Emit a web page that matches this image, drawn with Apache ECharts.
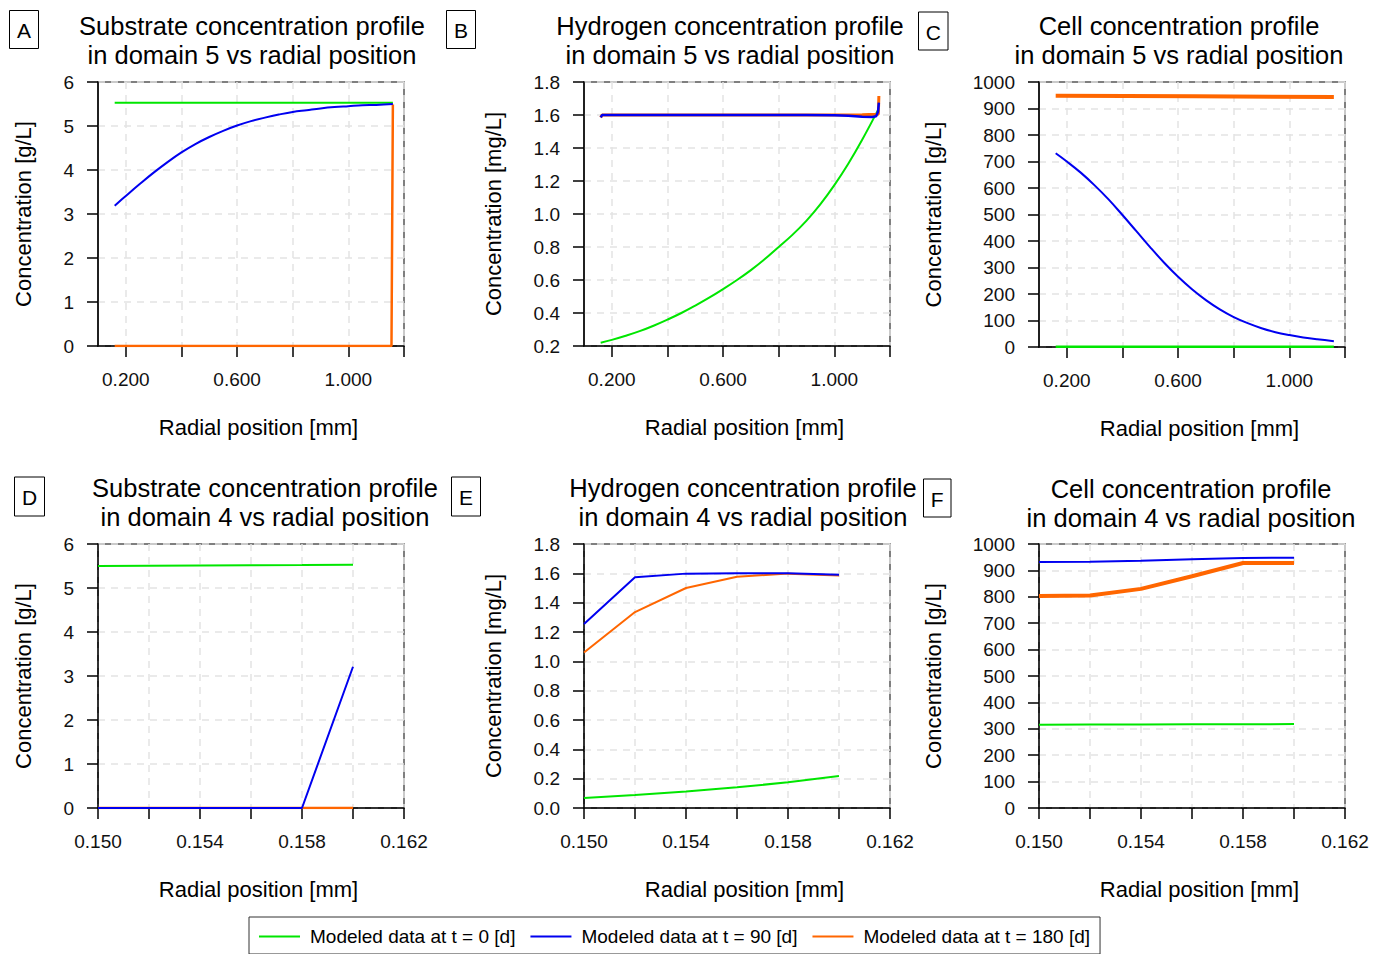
<!DOCTYPE html>
<html><head><meta charset="utf-8">
<script src="https://cdn.jsdelivr.net/npm/echarts@6/dist/echarts.min.js"></script>
<style>html,body{margin:0;padding:0;background:#fff}#c{width:1373px;height:954px}</style>
</head><body><div id="c"></div>
<script>
// ---------------- DATA ----------------
const seriesNames = ['Modeled data at t = 0 [d]', 'Modeled data at t = 90 [d]', 'Modeled data at t = 180 [d]'];
const panelLetters = ['A', 'B', 'C', 'D', 'E', 'F'];
const panelTitles = [
  'Substrate concentration profile\nin domain 5 vs radial position',
  'Hydrogen concentration profile\nin domain 5 vs radial position',
  'Cell concentration profile\nin domain 5 vs radial position',
  'Substrate concentration profile\nin domain 4 vs radial position',
  'Hydrogen concentration profile\nin domain 4 vs radial position',
  'Cell concentration profile\nin domain 4 vs radial position'
];
const xAxisName = 'Radial position [mm]';
const yAxisNames = ['Concentration [g/L]', 'Concentration [mg/L]', 'Concentration [g/L]',
                    'Concentration [g/L]', 'Concentration [mg/L]', 'Concentration [g/L]'];

// x tick values / labels
const xTicksDomain5 = [0.2, 0.4, 0.6, 0.8, 1.0, 1.2];
const xLabelsDomain5 = [0.2, 0.6, 1.0];
const xTicksDomain4 = [0.150, 0.152, 0.154, 0.156, 0.158, 0.160, 0.162];
const xLabelsDomain4 = [0.150, 0.154, 0.158, 0.162];
// y ranges per panel: [min, max, interval, decimals]
const yRanges = [[0, 6, 1, 0], [0.2, 1.8, 0.2, 1], [0, 1000, 100, 0],
                 [0, 6, 1, 0], [0, 1.8, 0.2, 1], [0, 1000, 100, 0]];

// Domain 5 radial grid (mm)
const x5 = [0.16, 0.2, 0.25, 0.3, 0.35, 0.4, 0.45, 0.5, 0.55, 0.6, 0.65, 0.7, 0.75, 0.8, 0.85, 0.9, 0.95, 1.0, 1.05, 1.1, 1.16];
// Panel A - substrate, domain 5
const A_t0_x = [0.16, 1.16];
const A_t0_y = [5.53, 5.53];
const A_t90_y = [3.19, 3.41, 3.68, 3.94, 4.18, 4.40, 4.59, 4.75, 4.89, 5.01, 5.11, 5.19, 5.26, 5.32, 5.36, 5.40, 5.43, 5.45, 5.47, 5.48, 5.50];
const A_t180_x = [0.16, 1.155, 1.16];
const A_t180_y = [0, 0, 5.49];
// Panel B - hydrogen, domain 5
const B_t0_y = [0.22, 0.237, 0.262, 0.29, 0.323, 0.36, 0.40, 0.445, 0.493, 0.545, 0.60, 0.66, 0.727, 0.80, 0.875, 0.96, 1.06, 1.175, 1.305, 1.45, 1.64];
const B_t90_x = [0.16, 0.165, 0.2, 0.6, 0.9, 1.0, 1.05, 1.1, 1.136, 1.15, 1.157, 1.16];
const B_t90_y = [1.585, 1.6, 1.6, 1.6, 1.6, 1.598, 1.595, 1.59, 1.588, 1.592, 1.62, 1.675];
const B_t180_x = [0.16, 0.165, 0.6, 1.0, 1.1, 1.15, 1.158, 1.16];
const B_t180_y = [1.585, 1.6, 1.6, 1.6, 1.602, 1.604, 1.605, 1.715];
// Panel C - cells, domain 5
const C_t0_x = [0.16, 1.16];
const C_t0_y = [0.5, 0.5];
const C_t90_y = [731, 700, 658, 610, 557, 498, 437, 376, 318, 265, 218, 177, 142, 113, 90, 71, 56, 45, 36, 29, 22];
const C_t180_x = [0.16, 0.66, 1.16];
const C_t180_y = [948, 946, 943];

// Domain 4 radial grid (mm)
const x4 = [0.150, 0.152, 0.154, 0.156, 0.158, 0.160];
const D_t0_y = [5.50, 5.505, 5.51, 5.515, 5.52, 5.53];
const D_t90_y = [0, 0, 0, 0, 0, 3.21];
const D_t180_y = [0, 0, 0, 0, 0, 0];
const E_t0_y = [0.068, 0.089, 0.112, 0.141, 0.175, 0.218];
const E_t90_y = [1.254, 1.573, 1.598, 1.6, 1.6, 1.59];
const E_t180_y = [1.06, 1.336, 1.50, 1.577, 1.598, 1.586];
const F_t0_y = [315, 316, 316, 317, 317, 318];
const F_t90_y = [932, 933, 937, 942, 947, 948];
const F_t180_y = [803, 805, 830, 878, 928, 928];

// ---------------- STYLE / LAYOUT ----------------
const FONT = 'Liberation Sans';
const COLORS = ['#00e600', '#0000f0', '#ff6600'];
const grids = [
  {left: 98, top: 82, width: 306, height: 264},
  {left: 584, top: 82, width: 306, height: 264},
  {left: 1039, top: 82, width: 306, height: 265},
  {left: 98, top: 544, width: 306, height: 264},
  {left: 584, top: 544, width: 306, height: 264},
  {left: 1039, top: 544, width: 306, height: 264}
];
const yNameGaps = [64, 80, 95, 64, 80, 95];
const letterBoxes = [
  {x: 9.5, y: 10.5, w: 29, h: 38},
  {x: 446.5, y: 10.5, w: 29, h: 38},
  {x: 918.5, y: 12, w: 29.5, h: 38},
  {x: 14.5, y: 477, w: 30, h: 39},
  {x: 451.5, y: 477, w: 29, h: 39},
  {x: 923.5, y: 479, w: 27.5, h: 38}
];
const titlePos = [
  {x: 252, y: 11}, {x: 730, y: 11}, {x: 1179, y: 11.5},
  {x: 265, y: 473.5}, {x: 743, y: 473.5}, {x: 1191, y: 474}
];

function pairs(xs, ys) { return xs.map((x, i) => [x, ys[i]]); }
function line(gi, k, xs, ys, width, smooth) {
  return {
    type: 'line', name: seriesNames[k], xAxisIndex: gi, yAxisIndex: gi,
    data: pairs(xs, ys), showSymbol: false, symbol: 'none',
    smooth: smooth ? 0.4 : false,
    lineStyle: {color: COLORS[k], width: width},
    itemStyle: {color: COLORS[k]},
    emphasis: {disabled: true}, animation: false, silent: true
  };
}

const gridOpts = grids.map(g => Object.assign({
  show: true, borderColor: '#555', borderWidth: 1.5, backgroundColor: 'transparent',
  containLabel: false, outerBoundsMode: 'none'
}, g));

const xAxes = grids.map((g, i) => {
  const d5 = i < 3;
  return {
    type: 'value', gridIndex: i,
    min: d5 ? 0.1 : 0.150, max: d5 ? 1.2 : 0.162,
    interval: d5 ? undefined : 0.002,
    name: xAxisName, nameLocation: 'middle', nameGap: 70,
    nameTextStyle: {fontFamily: FONT, fontSize: 22, color: '#000', padding: [0, 0, 0, 15]},
    axisLine: {show: true, onZero: false, lineStyle: {color: '#000', width: 1.5}},
    axisTick: {show: true, inside: false, length: 11, lineStyle: {color: '#000', width: 1.5},
               customValues: d5 ? xTicksDomain5 : xTicksDomain4},
    axisLabel: {show: true, margin: 24, fontFamily: FONT, fontSize: 19, color: '#111',
                customValues: d5 ? xLabelsDomain5 : xLabelsDomain4,
                formatter: v => Number(v).toFixed(3)},
    splitLine: {show: true, lineStyle: {color: '#e4e4e4', width: 1.5, type: [7, 6]}},
    minorTick: {show: false}
  };
});

const yAxes = grids.map((g, i) => {
  const r = yRanges[i];
  return {
    type: 'value', gridIndex: i, min: r[0], max: r[1], interval: r[2],
    name: yAxisNames[i], nameLocation: 'middle', nameGap: yNameGaps[i],
    nameTextStyle: {fontFamily: FONT, fontSize: 22, color: '#000'},
    axisLine: {show: true, onZero: false, lineStyle: {color: '#000', width: 1.5}},
    axisTick: {show: true, inside: false, length: 11, lineStyle: {color: '#000', width: 1.5}},
    axisLabel: {show: true, margin: 24, fontFamily: FONT, fontSize: 19, color: '#111',
                formatter: v => Number(v).toFixed(r[3])},
    splitLine: {show: true, lineStyle: {color: '#e4e4e4', width: 1.5, type: [7, 6]}}
  };
});

// draw order: t=0 (green), t=180 (orange), t=90 (blue) on top
const series = [
  line(0, 0, A_t0_x, A_t0_y, 2, false),
  line(0, 2, A_t180_x, A_t180_y, 2.5, false),
  line(0, 1, x5, A_t90_y, 2, true),
  line(1, 0, x5, B_t0_y, 2, true),
  line(1, 2, B_t180_x, B_t180_y, 3, false),
  line(1, 1, B_t90_x, B_t90_y, 2.5, false),
  line(2, 0, C_t0_x, C_t0_y, 2.5, false),
  line(2, 2, C_t180_x, C_t180_y, 4, false),
  line(2, 1, x5, C_t90_y, 2, true),
  line(3, 0, x4, D_t0_y, 2, false),
  line(3, 2, x4, D_t180_y, 2.5, false),
  line(3, 1, x4, D_t90_y, 2, false),
  line(4, 0, x4, E_t0_y, 2, false),
  line(4, 2, x4, E_t180_y, 2, false),
  line(4, 1, x4, E_t90_y, 2, false),
  line(5, 0, x4, F_t0_y, 2, false),
  line(5, 2, x4, F_t180_y, 4, false),
  line(5, 1, x4, F_t90_y, 2, false)
];

const graphics = [];
letterBoxes.forEach((b, i) => {
  graphics.push({type: 'rect', shape: {x: b.x, y: b.y, width: b.w, height: b.h},
    style: {fill: '#fff', stroke: '#000', lineWidth: 1}, silent: true});
  graphics.push({type: 'text', x: b.x + b.w / 2, y: b.y + b.h / 2 + 1,
    style: {text: panelLetters[i], font: '21px "' + FONT + '"', fill: '#000',
            align: 'center', verticalAlign: 'middle'}, silent: true});
});
titlePos.forEach((p, i) => {
  graphics.push({type: 'text', x: p.x, y: p.y,
    style: {text: panelTitles[i], font: '25.5px "' + FONT + '"', fill: '#000',
            align: 'center', verticalAlign: 'top', lineHeight: 29}, silent: true});
});

const option = {
  backgroundColor: '#fff',
  animation: false,
  grid: gridOpts,
  xAxis: xAxes,
  yAxis: yAxes,
  series: series,
  legend: {
    data: seriesNames, left: 249, top: 917, orient: 'horizontal',
    icon: 'rect', itemWidth: 41, itemHeight: 2, itemGap: 15,
    padding: [10, 10, 8, 10], borderColor: '#333', borderWidth: 1, backgroundColor: '#fff',
    itemStyle: {borderWidth: 0},
    textStyle: {fontFamily: FONT, fontSize: 19, color: '#000', padding: [0, 0, 0, 5]},
    selectedMode: false
  },
  graphic: graphics
};

const chart = echarts.init(document.getElementById('c'), null, {renderer: 'svg', width: 1373, height: 954});
chart.setOption(option);
</script>
</body></html>
